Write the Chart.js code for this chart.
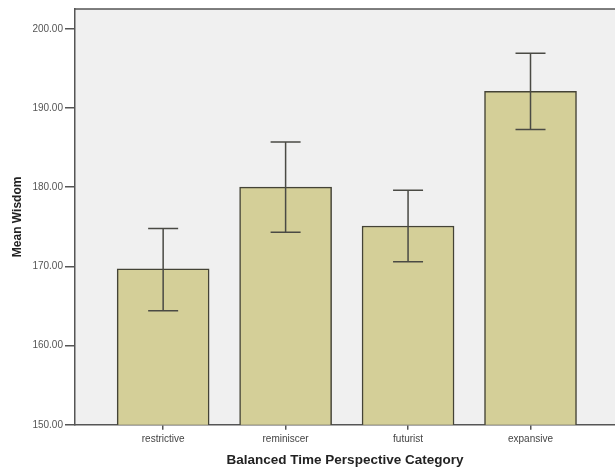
<!DOCTYPE html>
<html>
<head>
<meta charset="utf-8">
<script src="https://cdn.jsdelivr.net/npm/chart.js@4/dist/chart.umd.min.js"></script>
<style>
  html, body { margin: 0; padding: 0; background: #ffffff; }
  #wrap { width: 615px; height: 472px; }
</style>
</head>
<body>
<div id="wrap"><canvas id="chart" width="615" height="472"></canvas></div>
<script>
// chart values
const categories = ['restrictive', 'reminiscer', 'futurist', 'expansive'];
const means = [169.7, 180.0, 175.1, 192.1];
const errLow = [164.4, 174.3, 170.6, 187.3];
const errHigh = [174.8, 185.7, 179.6, 196.9];
const yTicks = [150, 160, 170, 180, 190, 200];

const barColor = '#d4cf98';
const edgeColor = '#444336';
const axisColor = '#555555';

// grey panel behind the bars, plus the top border line
const panelPlugin = {
    id: 'panel',
    beforeDraw(chart) {
        const { ctx, chartArea: a } = chart;
        ctx.save();
        ctx.fillStyle = '#f0f0f0';
        ctx.fillRect(a.left, a.top, a.right - a.left, a.bottom - a.top);
        ctx.strokeStyle = axisColor;
        ctx.lineWidth = 1.5;
        ctx.beginPath();
        ctx.moveTo(a.left, a.top);
        ctx.lineTo(a.right, a.top);
        ctx.stroke();
        ctx.restore();
    }
};

// error bars drawn on top of each bar
const errorBarPlugin = {
    id: 'errorBars',
    afterDatasetsDraw(chart) {
        const { ctx } = chart;
        const yScale = chart.scales.y;
        const meta = chart.getDatasetMeta(0);
        ctx.save();
        ctx.strokeStyle = '#4a4a44';
        ctx.lineWidth = 1.5;
        meta.data.forEach((bar, i) => {
            const x = bar.x;
            const yLo = yScale.getPixelForValue(errLow[i]);
            const yHi = yScale.getPixelForValue(errHigh[i]);
            const cap = 15;
            ctx.beginPath();
            ctx.moveTo(x, yLo);
            ctx.lineTo(x, yHi);
            ctx.moveTo(x - cap, yHi);
            ctx.lineTo(x + cap, yHi);
            ctx.moveTo(x - cap, yLo);
            ctx.lineTo(x + cap, yLo);
            ctx.stroke();
        });
        ctx.restore();
    }
};

new Chart(document.getElementById('chart'), {
    type: 'bar',
    data: {
        datasets: [{
            data: means.map((v, i) => ({ x: i, y: v })),
            backgroundColor: barColor,
            borderColor: edgeColor,
            borderWidth: 1.5,
            borderSkipped: false,
            barThickness: 92
        }]
    },
    plugins: [panelPlugin, errorBarPlugin],
    options: {
        responsive: false,
        animation: false,
        layout: { padding: { top: 9, right: 0, left: 10, bottom: 4 } },
        plugins: {
            legend: { display: false },
            tooltip: { enabled: false }
        },
        scales: {
            x: {
                type: 'linear',
                min: -0.72,
                max: 3.69,
                offset: false,
                afterBuildTicks: (axis) => {
                    axis.ticks = categories.map((_, i) => ({ value: i }));
                },
                ticks: {
                    autoSkip: false,
                    maxRotation: 0,
                    color: '#444444',
                    font: { family: 'Liberation Sans', size: 10 },
                    padding: 3,
                    callback: (v) => categories[v] ?? ''
                },
                grid: {
                    offset: false,
                    drawOnChartArea: false,
                    drawTicks: true,
                    tickLength: 5,
                    color: axisColor,
                    lineWidth: 1.5
                },
                border: { color: axisColor, width: 1.5 },
                title: {
                    display: true,
                    text: 'Balanced Time Perspective Category',
                    color: '#222222',
                    font: { family: 'Liberation Sans', size: 13.5, weight: 'bold' },
                    padding: { top: 4, bottom: 0 }
                }
            },
            y: {
                min: 150,
                max: 202.5,
                afterBuildTicks: (axis) => {
                    axis.ticks = yTicks.map(v => ({ value: v }));
                },
                ticks: {
                    color: '#555555',
                    font: { family: 'Liberation Sans', size: 10 },
                    padding: 2,
                    callback: (v) => Number(v).toFixed(2)
                },
                grid: {
                    drawOnChartArea: false,
                    drawTicks: true,
                    tickLength: 10,
                    color: axisColor,
                    lineWidth: 1.5
                },
                border: { color: axisColor, width: 1.5 },
                title: {
                    display: true,
                    text: 'Mean Wisdom',
                    color: '#222222',
                    font: { family: 'Liberation Sans', size: 12, weight: 'bold' },
                    padding: { top: 0, bottom: 6 }
                }
            }
        }
    }
});
</script>
</body>
</html>
